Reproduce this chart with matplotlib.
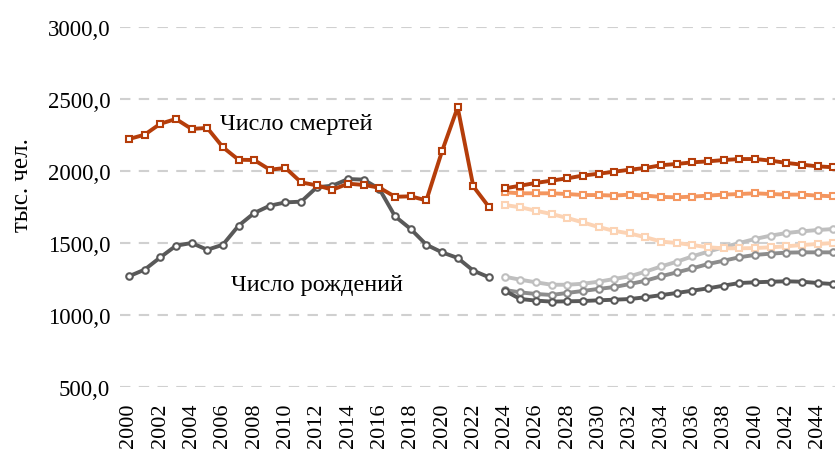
import numpy as np
import matplotlib
matplotlib.use("Agg")
import matplotlib.pyplot as plt

plt.rcParams['font.family'] = ['Liberation Serif', 'DejaVu Serif']

# historical data, thousands of people
years_hist = list(range(2000, 2024))
deaths_hist = [2222, 2252, 2328, 2361, 2292, 2299, 2165, 2078, 2076, 2009, 2021, 1921,
               1900, 1870, 1912, 1903, 1884, 1821, 1824, 1796, 2137, 2442, 1893, 1750]
births_hist = [1269, 1315, 1400, 1481, 1500, 1453, 1488, 1620, 1708, 1759, 1782, 1787,
               1887, 1898, 1944, 1940, 1875, 1685, 1597, 1488, 1435, 1396, 1308, 1262]

# forecast scenarios
years_fc = list(range(2024, 2046))
deaths_fc_1 = [1879, 1898, 1917, 1933, 1949, 1968, 1981, 1995, 2009, 2021, 2040,
               2049, 2060, 2067, 2076, 2083, 2083, 2072, 2056, 2044, 2032, 2026]
deaths_fc_2 = [1852, 1845, 1845, 1845, 1840, 1833, 1833, 1829, 1836, 1829, 1820,
               1817, 1822, 1829, 1836, 1840, 1845, 1840, 1836, 1836, 1829, 1824]
deaths_fc_3 = [1764, 1748, 1724, 1701, 1674, 1643, 1611, 1584, 1566, 1540, 1510,
               1500, 1486, 1470, 1463, 1463, 1465, 1470, 1477, 1486, 1493, 1500]
births_fc_1 = [1169, 1111, 1100, 1093, 1095, 1097, 1102, 1106, 1111, 1123, 1138,
               1153, 1169, 1185, 1204, 1222, 1227, 1231, 1234, 1231, 1222, 1215]
births_fc_2 = [1174, 1157, 1146, 1139, 1153, 1167, 1181, 1194, 1215, 1238, 1269,
               1296, 1324, 1354, 1377, 1401, 1417, 1426, 1433, 1435, 1435, 1435]
births_fc_3 = [1266, 1245, 1227, 1210, 1210, 1217, 1231, 1250, 1269, 1301, 1337,
               1370, 1407, 1440, 1470, 1500, 1528, 1551, 1569, 1581, 1590, 1597]

x_ticks = list(range(2000, 2045, 2))
y_ticks = [500, 1000, 1500, 2000, 2500, 3000]

fig = plt.figure(figsize=(8.35, 4.52), dpi=100)
ax = fig.add_axes([0.1437, 0.1416, 0.8563, 0.7965])

def draw(x, y, color, marker, z):
    ax.plot(x, y, color=color, lw=2.8, marker=marker, ms=4.7, mfc='white',
            mec=color, mew=1.5, zorder=z)

# forecasts (lighter first so darker ones sit on top)
draw(years_fc, births_fc_3, '#BFBFBF', 'o', 3)
draw(years_fc, deaths_fc_3, '#FCD3B4', 's', 3)
draw(years_fc, births_fc_2, '#8C8C8C', 'o', 4)
draw(years_fc, deaths_fc_2, '#F4965F', 's', 4)
draw(years_fc, births_fc_1, '#595959', 'o', 5)
draw(years_fc, deaths_fc_1, '#B53D0A', 's', 5)

# history
draw(years_hist, births_hist, '#595959', 'o', 6)
draw(years_hist, deaths_hist, '#B53D0A', 's', 7)

ax.text(2005.8, 2330, 'Число смертей', fontsize=17.5, ha='left', va='center')
ax.text(2006.5, 1215, 'Число рождений', fontsize=17.5, ha='left', va='center')

ax.set_xlim(1999.425, 2045.11)
ax.set_ylim(500, 3000)
ax.set_xticks(x_ticks)
ax.set_xticklabels([str(v) for v in x_ticks], rotation=90, fontsize=16)
ax.set_yticks(y_ticks)
ax.set_yticklabels([f"{v:.1f}".replace('.', ',') for v in y_ticks], fontsize=16.5)
ax.tick_params(axis='x', length=0, pad=11)
ax.tick_params(axis='y', length=0, pad=7)
ax.grid(axis='y', color='#D0D0D0', lw=1.5, ls=(0, (5, 4)), zorder=0)
for s in ax.spines.values():
    s.set_visible(False)

fig.text(0.026, 0.59, 'тыс. чел.', rotation=90, fontsize=18, ha='center', va='center')

fig.savefig('out.png', dpi=100)
